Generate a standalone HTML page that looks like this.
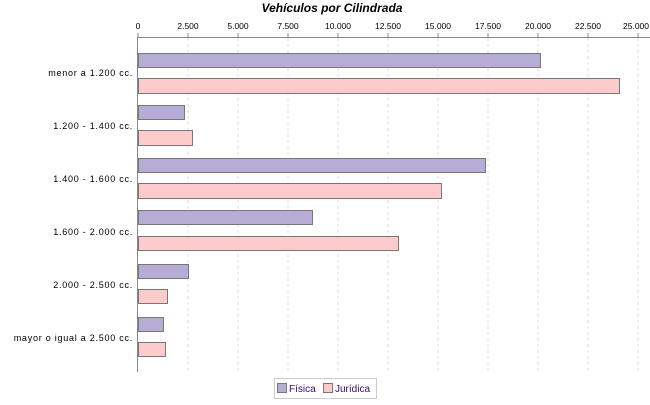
<!DOCTYPE html>
<html><head><style>body{margin:0;background:#fff}</style></head><body>
<svg width="650" height="400" xmlns="http://www.w3.org/2000/svg" font-family="Liberation Sans, sans-serif">
<rect width="650" height="400" fill="#fff"/>
<text x="332" y="12" text-anchor="middle" font-size="12" font-weight="bold" font-style="italic">Vehículos por Cilindrada</text>
<g stroke="#ddd" stroke-dasharray="3,3">
<line x1="188" y1="38" x2="188" y2="372"/><line x1="238" y1="38" x2="238" y2="372"/><line x1="288" y1="38" x2="288" y2="372"/><line x1="338" y1="38" x2="338" y2="372"/><line x1="388" y1="38" x2="388" y2="372"/><line x1="438" y1="38" x2="438" y2="372"/><line x1="488" y1="38" x2="488" y2="372"/><line x1="538" y1="38" x2="538" y2="372"/><line x1="588" y1="38" x2="588" y2="372"/><line x1="638" y1="38" x2="638" y2="372"/>
</g>
<g font-size="8.5" text-anchor="middle" fill="#000">
<text x="138" y="29">0</text><text x="188" y="29">2.500</text><text x="238" y="29">5.000</text><text x="288" y="29">7.500</text><text x="338" y="29">10.000</text><text x="388" y="29">12.500</text><text x="438" y="29">15.000</text><text x="488" y="29">17.500</text><text x="538" y="29">20.000</text><text x="588" y="29">22.500</text><text x="636" y="29">25.000</text>
</g>
<g stroke="#888"><line x1="138" y1="37.5" x2="650" y2="37.5"/><line x1="137.5" y1="37" x2="137.5" y2="372"/>
<line x1="138" y1="33" x2="138" y2="37"/><line x1="188" y1="33" x2="188" y2="37"/><line x1="238" y1="33" x2="238" y2="37"/><line x1="288" y1="33" x2="288" y2="37"/><line x1="338" y1="33" x2="338" y2="37"/><line x1="388" y1="33" x2="388" y2="37"/><line x1="438" y1="33" x2="438" y2="37"/><line x1="488" y1="33" x2="488" y2="37"/><line x1="538" y1="33" x2="538" y2="37"/><line x1="588" y1="33" x2="588" y2="37"/><line x1="638" y1="33" x2="638" y2="37"/></g>
<g stroke="#777" stroke-width="1">
<g fill="#b6acd6">
<rect x="138.5" y="53.5" width="402" height="14"/>
<rect x="138.5" y="105.5" width="46" height="14"/>
<rect x="138.5" y="158.5" width="347" height="14"/>
<rect x="138.5" y="210.5" width="174" height="14"/>
<rect x="138.5" y="264.5" width="50" height="14"/>
<rect x="138.5" y="317.5" width="25" height="14"/>
</g>
<g fill="#fdcbcb">
<rect x="138.5" y="78.5" width="481" height="15"/>
<rect x="138.5" y="130.5" width="54" height="15"/>
<rect x="138.5" y="183.5" width="303" height="15"/>
<rect x="138.5" y="236.5" width="260" height="14"/>
<rect x="138.5" y="289.5" width="29" height="14"/>
<rect x="138.5" y="342.5" width="27" height="14"/>
</g></g>
<g font-size="9" text-anchor="end" letter-spacing="0.75">
<text x="133" y="76">menor a 1.200 cc.</text>
<text x="133" y="129">1.200 - 1.400 cc.</text>
<text x="133" y="182">1.400 - 1.600 cc.</text>
<text x="133" y="235">1.600 - 2.000 cc.</text>
<text x="133" y="288">2.000 - 2.500 cc.</text>
<text x="133" y="341">mayor o igual a 2.500 cc.</text>
</g>
<rect x="274.5" y="378.5" width="102" height="20" fill="#fff" stroke="#ccc"/>
<rect x="277.5" y="383.5" width="9" height="9" fill="#b6acd6" stroke="#777"/>
<text x="289" y="392" font-size="10" fill="#3a0a6a">Física</text>
<rect x="323.5" y="383.5" width="9" height="9" fill="#fdcbcb" stroke="#777"/>
<text x="335" y="392" font-size="10" fill="#3a0a6a">Jurídica</text>
</svg>
</body></html>
